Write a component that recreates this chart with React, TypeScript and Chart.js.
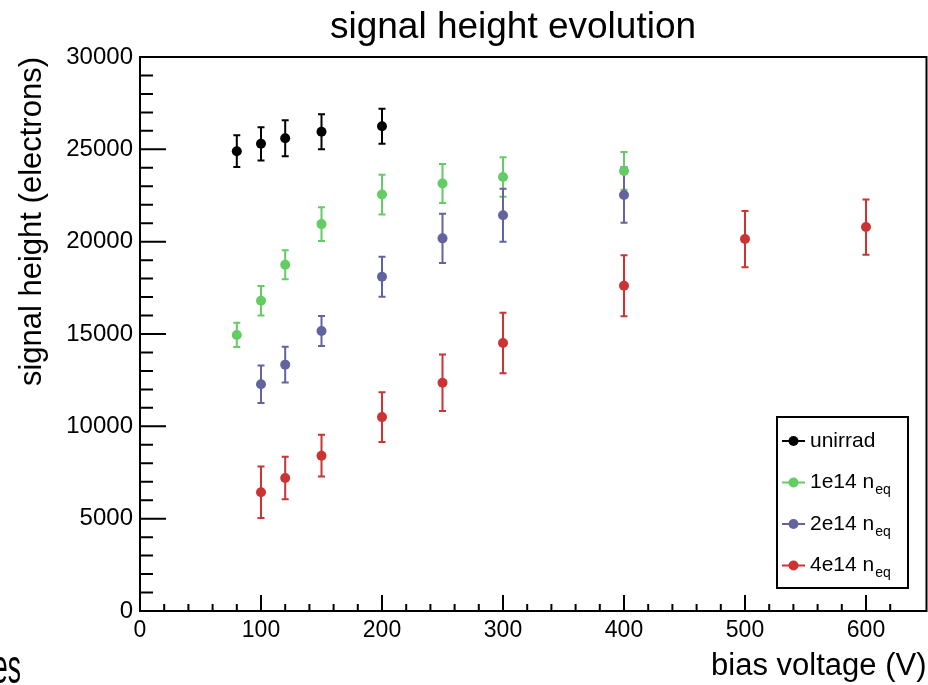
import React, { useEffect, useRef } from "react";
import { Chart, registerables } from "chart.js";

Chart.register(...registerables);

const FONT = "'Liberation Sans', Arial, Helvetica, sans-serif";

// ---- data ----
const unirradV = [80, 100, 120, 150, 200];
const unirradS = [24900, 25300, 25600, 25950, 26250];
const unirradE = [860, 900, 970, 950, 950];

const n1e14V = [80, 100, 120, 150, 200, 250, 300, 400];
const n1e14S = [14950, 16800, 18750, 20950, 22550, 23150, 23500, 23830];
const n1e14E = [660, 800, 780, 920, 1080, 1050, 1065, 1020];

const n2e14V = [100, 120, 150, 200, 250, 300, 400];
const n2e14S = [12280, 13340, 15160, 18100, 20180, 21430, 22530];
const n2e14E = [1010, 965, 810, 1080, 1330, 1435, 1505];

const n4e14V = [100, 120, 150, 200, 250, 300, 400, 500, 600];
const n4e14S = [6430, 7200, 8410, 10500, 12360, 14510, 17610, 20140, 20790];
const n4e14E = [1400, 1155, 1130, 1350, 1530, 1640, 1650, 1525, 1500];

const seriesMain = ["unirrad", "1e14 n", "2e14 n", "4e14 n"];
const seriesSub = ["", "eq", "eq", "eq"];
const seriesColors = ["#000000", "#63cc63", "#63639f", "#cc3333"];

const titleText = "signal height evolution";

const xTicksMajor = 100;
const xTicksMinor = 20;
const yTicksMajor = 5000;
const yTicksMinor = 1000;

const mk = (v: number[], s: number[]) => v.map((x, i) => ({ x, y: s[i] }));

const errorBars = {
  id: "errorBars",
  beforeDatasetsDraw(chart: any) {
    const ctx = chart.ctx;
    const xs = chart.scales.x;
    const ys = chart.scales.y;
    chart.data.datasets.forEach((ds: any) => {
      ctx.save();
      ctx.strokeStyle = ds.borderColor;
      ctx.lineWidth = 2;
      ds.data.forEach((p: any, i: number) => {
        const e = ds.errors[i];
        const px = xs.getPixelForValue(p.x);
        const yl = ys.getPixelForValue(p.y - e);
        const yh = ys.getPixelForValue(p.y + e);
        ctx.beginPath();
        ctx.moveTo(px, yl);
        ctx.lineTo(px, yh);
        ctx.moveTo(px - 3.5, yl);
        ctx.lineTo(px + 3.5, yl);
        ctx.moveTo(px - 3.5, yh);
        ctx.lineTo(px + 3.5, yh);
        ctx.stroke();
      });
      ctx.restore();
    });
  },
};

const frameTicks = {
  id: "frameTicks",
  beforeDatasetsDraw(chart: any) {
    const ctx = chart.ctx;
    const { left, right, top, bottom } = chart.chartArea;
    ctx.save();
    ctx.strokeStyle = "#000";
    ctx.lineWidth = 2;
    ctx.strokeRect(left, top, right - left, bottom - top);
    ctx.beginPath();
    chart.scales.y.ticks.forEach((t: any) => {
      if (t.value % yTicksMinor !== 0) return;
      const py = chart.scales.y.getPixelForValue(t.value);
      const len = t.value % yTicksMajor === 0 ? 26 : 13;
      ctx.moveTo(left, py);
      ctx.lineTo(left + len, py);
    });
    chart.scales.x.ticks.forEach((t: any) => {
      if (t.value % xTicksMinor !== 0) return;
      const px = chart.scales.x.getPixelForValue(t.value);
      const len = t.value % xTicksMajor === 0 ? 16 : 7;
      ctx.moveTo(px, bottom);
      ctx.lineTo(px, bottom - len);
    });
    ctx.stroke();
    ctx.restore();
  },
};

const customLegend = {
  id: "customLegend",
  afterDraw(chart: any) {
    const ctx = chart.ctx;
    const bx = 777, by = 417, bw = 131, bh = 171;
    ctx.save();
    ctx.fillStyle = "#fff";
    ctx.fillRect(bx, by, bw, bh);
    ctx.strokeStyle = "#000";
    ctx.lineWidth = 2;
    ctx.strokeRect(bx, by, bw, bh);
    chart.data.datasets.forEach((ds: any, i: number) => {
      const cy = by + 24 + i * 41.5;
      ctx.strokeStyle = ds.borderColor;
      ctx.fillStyle = ds.backgroundColor;
      ctx.lineWidth = 2;
      ctx.beginPath();
      ctx.moveTo(bx + 5, cy);
      ctx.lineTo(bx + 28, cy);
      ctx.stroke();
      ctx.beginPath();
      ctx.arc(bx + 16.5, cy, 5, 0, Math.PI * 2);
      ctx.fill();
      ctx.fillStyle = "#000";
      ctx.textBaseline = "middle";
      ctx.textAlign = "left";
      ctx.font = `21px ${FONT}`;
      const tx = bx + 33;
      ctx.fillText(seriesMain[i], tx, cy);
      if (seriesSub[i]) {
        const w = ctx.measureText(seriesMain[i]).width;
        ctx.font = `14px ${FONT}`;
        ctx.fillText(seriesSub[i], tx + w + 1, cy + 8);
      }
    });
    // main title
    ctx.fillStyle = "#000";
    ctx.font = `37px ${FONT}`;
    ctx.textAlign = "center";
    ctx.textBaseline = "alphabetic";
    ctx.fillText(titleText, 513, 38);
    // clipped text fragment at bottom-left
    ctx.save();
    ctx.scale(0.55, 1);
    ctx.font = `48px ${FONT}`;
    ctx.textAlign = "right";
    ctx.fillText("es", 21 / 0.55, 683);
    ctx.restore();
    ctx.restore();
  },
};

export default function App() {
  const ref = useRef<HTMLCanvasElement>(null);
  useEffect(() => {
    if (!ref.current) return;
    Chart.defaults.color = "#000";
    const allV = [unirradV, n1e14V, n2e14V, n4e14V];
    const allS = [unirradS, n1e14S, n2e14S, n4e14S];
    const allE = [unirradE, n1e14E, n2e14E, n4e14E];
    const chart = new Chart(ref.current, {
      type: "scatter",
      data: {
        datasets: allV.map((v, i) => ({
          label: seriesMain[i] + seriesSub[i],
          data: mk(v, allS[i]),
          errors: allE[i],
          backgroundColor: seriesColors[i],
          borderColor: seriesColors[i],
          pointRadius: 5,
          pointBorderWidth: 0,
          showLine: false,
        })) as any,
      },
      options: {
        responsive: false,
        animation: false,
        layout: { autoPadding: false, padding: { left: 0, right: 1.5, top: 57, bottom: 0 } },
        plugins: {
          legend: { display: false },
          tooltip: { enabled: false },
          title: { display: false },
        },
        scales: {
          x: {
            type: "linear",
            position: "bottom",
            min: 0,
            max: 650,
            grid: { display: false, drawTicks: false, tickLength: 0 },
            border: { display: false },
            ticks: {
              stepSize: xTicksMinor,
              autoSkip: false,
              maxRotation: 0,
              padding: 6,
              color: "#000",
              font: { family: FONT, size: 23 },
              callback: (v: any) => (Number(v) % xTicksMajor === 0 ? String(v) : ""),
            },
            title: {
              display: true,
              text: "bias voltage (V)",
              align: "end",
              color: "#000",
              font: { family: FONT, size: 31, lineHeight: 1.2 },
              padding: 0,
            },
            afterFit: (s: any) => {
              s.height = 74;
              s.paddingLeft = 0;
              s.paddingRight = 0;
            },
          },
          y: {
            type: "linear",
            min: 0,
            max: 30000,
            grid: { display: false, drawTicks: false, tickLength: 0 },
            border: { display: false },
            ticks: {
              stepSize: yTicksMinor,
              autoSkip: false,
              maxTicksLimit: 1000,
              padding: 7,
              color: "#000",
              font: { family: FONT, size: 24 },
              callback: (v: any) => (Number(v) % yTicksMajor === 0 ? String(v) : ""),
            },
            title: {
              display: true,
              text: "signal height (electrons)",
              align: "end",
              color: "#000",
              font: { family: FONT, size: 31, lineHeight: 1.2 },
              padding: { top: 14, bottom: 0 },
            },
            afterFit: (s: any) => {
              s.width = 140;
            },
          },
        },
      } as any,
      plugins: [errorBars, frameTicks, customLegend],
    });
    return () => chart.destroy();
  }, []);
  return (
    <div style={{ position: "fixed", left: 0, top: 0, width: 928, height: 685, background: "#fff" }}>
      <canvas ref={ref} width={928} height={685} style={{ width: 928, height: 685, display: "block" }} />
    </div>
  );
}
